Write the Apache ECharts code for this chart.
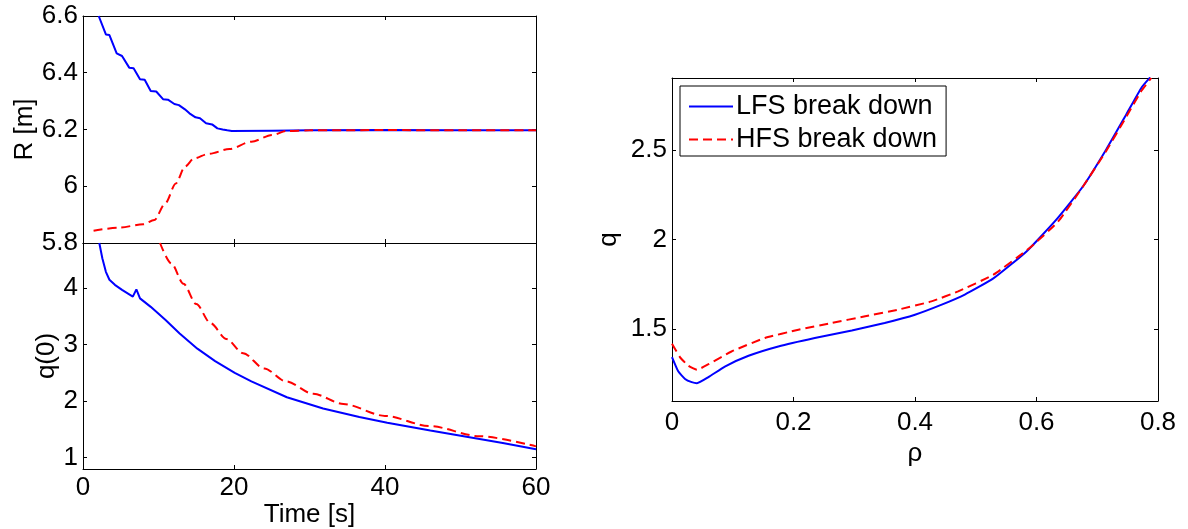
<!DOCTYPE html>
<html>
<head>
<meta charset="utf-8">
<script src="https://cdn.jsdelivr.net/npm/echarts@6/dist/echarts.min.js"></script>
<style>
html,body{margin:0;padding:0;background:#fff;}
#chart{width:1188px;height:529px;}
</style>
</head>
<body>
<div id="chart"></div>
<script>
// ---- Data ----
// Top-left: R [m] vs Time [s]
const timeR_LFS = [2.08, 3.03, 3.5, 4.46, 5.17, 6.12, 6.7, 7.55, 8.17, 8.97, 9.7, 10.6, 11.25, 12.1, 12.7, 13.5, 14.1, 14.9, 15.5, 16.3, 17.1, 17.8, 18.5, 19.1, 19.7, 25, 30, 40, 50, 60];
const R_LFS     = [6.6, 6.535, 6.533, 6.468, 6.459, 6.418, 6.416, 6.377, 6.375, 6.336, 6.334, 6.307, 6.305, 6.29, 6.286, 6.271, 6.257, 6.243, 6.24, 6.222, 6.218, 6.204, 6.2, 6.197, 6.195, 6.196, 6.197, 6.198, 6.197, 6.197];
const timeR_HFS = [1.4, 4.7, 8.0, 9.45, 10.9, 12.3, 13.5, 14.7, 16.6, 19.4, 22.3, 25.1, 27.0, 30, 40, 50, 60];
const R_HFS     = [5.843, 5.854, 5.866, 5.881, 5.94, 6.01, 6.069, 6.098, 6.114, 6.131, 6.157, 6.181, 6.195, 6.197, 6.198, 6.197, 6.197];

// Bottom-left: q(0) vs Time [s]
const timeQ_LFS = [2.16, 2.56, 3.03, 3.5, 4.22, 5.17, 6.6, 7.07, 7.55, 8.97, 10.9, 12.8, 15.15, 17.5, 20.1, 22.3, 27.0, 31.8, 36.6, 40.3, 46.0, 50.8, 55.6, 60];
const q0_LFS    = [4.8, 4.53, 4.29, 4.15, 4.06, 3.97, 3.85, 3.98, 3.82, 3.67, 3.44, 3.2, 2.93, 2.71, 2.50, 2.35, 2.07, 1.87, 1.72, 1.62, 1.48, 1.37, 1.26, 1.15];
const timeQ_HFS = [10.2, 11.7, 13.3, 15.0, 16.9, 19.0, 21.2, 24.0, 26.9, 30.5, 34.5, 40.0, 45.9, 52.5, 60];
const q0_HFS    = [4.8, 4.44, 4.08, 3.72, 3.38, 3.1, 2.85, 2.58, 2.35, 2.13, 1.95, 1.74, 1.56, 1.38, 1.2];

// Right: q vs rho
const rho_LFS = [0, 0.0105, 0.0215, 0.0325, 0.041, 0.06, 0.087, 0.126, 0.175, 0.235, 0.296, 0.35, 0.4, 0.444, 0.482, 0.529, 0.584, 0.633, 0.677, 0.715, 0.748, 0.773, 0.787];
const q_LFS   = [1.345, 1.264, 1.223, 1.205, 1.199, 1.233, 1.292, 1.352, 1.404, 1.451, 1.493, 1.535, 1.581, 1.637, 1.693, 1.783, 1.935, 2.112, 2.298, 2.503, 2.698, 2.847, 2.903];
const rho_HFS = [0, 0.013, 0.027, 0.041, 0.06, 0.098, 0.153, 0.208, 0.263, 0.318, 0.372, 0.427, 0.471, 0.529, 0.589, 0.636, 0.677, 0.715, 0.748, 0.773, 0.789];
const q_HFS   = [1.419, 1.345, 1.296, 1.274, 1.305, 1.376, 1.451, 1.497, 1.535, 1.572, 1.609, 1.655, 1.711, 1.804, 1.954, 2.102, 2.298, 2.495, 2.685, 2.83, 2.9];

// Tick values
const timeTicks = [0, 20, 40, 60];
const rTicks = [5.8, 6, 6.2, 6.4, 6.6];
const q0Ticks = [1, 2, 3, 4];
const rhoTicks = [0, 0.2, 0.4, 0.6, 0.8];
const qTicks = [1.5, 2, 2.5];

const seriesNames = ['LFS break down', 'HFS break down'];

// ---- Build ----
const pairs = (xs, ys) => xs.map((x, i) => [x, ys[i]]);
const FONT = 'Liberation Sans, Arial, Helvetica, sans-serif';
const BLUE = '#0000ff', RED = '#ff0000';
const DASH = [9, 5];

function xAxisDef(grid, pos, min, max, ticks, showLabels, tickLen, name, nameGap, margin) {
  return {
    type: 'value', gridIndex: grid, position: pos, min: min, max: max,
    axisLine: { show: true, onZero: false, lineStyle: { color: '#000', width: 1 } },
    axisTick: { show: true, inside: true, length: tickLen, customValues: ticks, lineStyle: { color: '#000', width: 1 } },
    axisLabel: { show: showLabels, customValues: ticks, color: '#000', fontSize: 26, fontFamily: FONT, margin: margin || 6 },
    splitLine: { show: false },
    name: name || '', nameLocation: 'middle', nameGap: nameGap || 0,
    nameTextStyle: { color: '#000', fontSize: 26, fontFamily: FONT }
  };
}
function yAxisDef(grid, pos, min, max, ticks, showLabels, tickLen, name, nameGap) {
  return {
    type: 'value', gridIndex: grid, position: pos, min: min, max: max,
    axisLine: { show: true, onZero: false, lineStyle: { color: '#000', width: 1 } },
    axisTick: { show: true, inside: true, length: tickLen, customValues: ticks, lineStyle: { color: '#000', width: 1 } },
    axisLabel: { show: showLabels, customValues: ticks, color: '#000', fontSize: 26, fontFamily: FONT, margin: 5 },
    splitLine: { show: false },
    name: name || '', nameLocation: 'middle', nameGap: nameGap || 0, nameRotate: 90,
    nameTextStyle: { color: '#000', fontSize: 26, fontFamily: FONT }
  };
}

const option = {
  animation: false,
  backgroundColor: '#fff',
  textStyle: { fontFamily: FONT },
  grid: [
    { left: 83, top: 16, width: 453, height: 227 },
    { left: 83, top: 243, width: 453, height: 226 },
    { left: 672, top: 78, width: 486, height: 323 }
  ],
  xAxis: [
    xAxisDef(0, 'bottom', 0, 60, timeTicks, false, 4),
    xAxisDef(0, 'top', 0, 60, timeTicks, false, 4),
    xAxisDef(1, 'bottom', 0, 60, timeTicks, true, 4, 'Time [s]', 29, 6),
    xAxisDef(1, 'top', 0, 60, timeTicks, false, 4),
    xAxisDef(2, 'bottom', 0, 0.8, rhoTicks, true, 4, 'ρ', 36, 9),
    xAxisDef(2, 'top', 0, 0.8, rhoTicks, false, 4)
  ],
  yAxis: [
    yAxisDef(0, 'left', 5.8, 6.6, rTicks, true, 4, 'R [m]', 45),
    yAxisDef(0, 'right', 5.8, 6.6, rTicks, false, 4),
    yAxisDef(1, 'left', 0.8, 4.8, q0Ticks, true, 4, 'q(0)', 22),
    yAxisDef(1, 'right', 0.8, 4.8, q0Ticks, false, 4),
    yAxisDef(2, 'left', 1.1, 2.9, qTicks, true, 4, 'q', 50),
    yAxisDef(2, 'right', 1.1, 2.9, qTicks, false, 4)
  ],
  legend: {
    data: seriesNames,
    orient: 'vertical',
    left: 680, top: 86,
    padding: [7, 9, 3, 8],
    itemGap: 6,
    itemWidth: 44, itemHeight: 14,
    backgroundColor: '#fff',
    borderColor: '#000', borderWidth: 1, borderRadius: 0,
    itemStyle: { opacity: 0 },
    textStyle: { color: '#000', fontSize: 27, fontFamily: FONT, padding: [0, 0, 0, -2] },
    selectedMode: false
  },
  series: [
    { name: 'R LFS', type: 'line', xAxisIndex: 0, yAxisIndex: 0, data: pairs(timeR_LFS, R_LFS),
      showSymbol: false, symbol: 'none', lineStyle: { color: BLUE, width: 2 }, itemStyle: { color: BLUE }, clip: true },
    { name: 'R HFS', type: 'line', xAxisIndex: 0, yAxisIndex: 0, data: pairs(timeR_HFS, R_HFS), smooth: 0.3, smoothMonotone: 'x',
      showSymbol: false, symbol: 'none', lineStyle: { color: RED, width: 2, type: DASH }, itemStyle: { color: RED }, clip: true },
    { name: 'q0 LFS', type: 'line', xAxisIndex: 2, yAxisIndex: 2, data: pairs(timeQ_LFS, q0_LFS),
      showSymbol: false, symbol: 'none', lineStyle: { color: BLUE, width: 2 }, itemStyle: { color: BLUE }, clip: true },
    { name: 'q0 HFS', type: 'line', xAxisIndex: 2, yAxisIndex: 2, data: pairs(timeQ_HFS, q0_HFS), smooth: 0.3, smoothMonotone: 'x',
      showSymbol: false, symbol: 'none', lineStyle: { color: RED, width: 2, type: DASH }, itemStyle: { color: RED }, clip: true },
    { name: seriesNames[0], type: 'line', xAxisIndex: 4, yAxisIndex: 4, data: pairs(rho_LFS, q_LFS), smooth: 0.15,
      showSymbol: false, symbol: 'none', lineStyle: { color: BLUE, width: 2 }, itemStyle: { color: BLUE }, clip: true },
    { name: seriesNames[1], type: 'line', xAxisIndex: 4, yAxisIndex: 4, data: pairs(rho_HFS, q_HFS), smooth: 0.15,
      showSymbol: false, symbol: 'none', lineStyle: { color: RED, width: 2, type: DASH }, itemStyle: { color: RED }, clip: true }
  ]
};

const chart = echarts.init(document.getElementById('chart'), null, { renderer: 'canvas' });
chart.setOption(option);
</script>
</body>
</html>
